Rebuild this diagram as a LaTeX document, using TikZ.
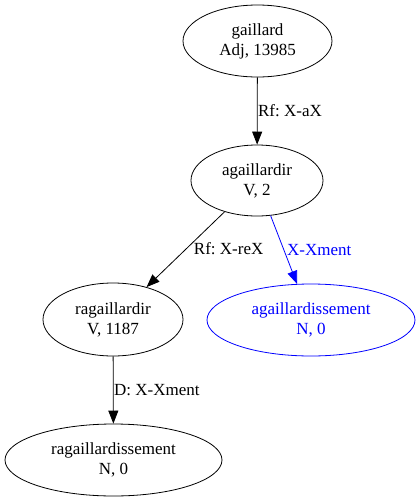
\documentclass[tikz,border=0pt]{standalone}
\usepackage{fontspec}
\setmainfont{Liberation Serif}
\usepackage{xcolor}
\usetikzlibrary{shapes.geometric,arrows.meta,positioning}
\frenchspacing

\begin{document}
\begin{tikzpicture}[x=1pt,y=-1pt,
	lex/.style={ellipse,draw,line width=0.8pt,inner sep=0pt,align=center,font=\fontsize{17}{20}\selectfont},
	rel/.style={-{Triangle[length=13pt,width=10pt]},line width=0.8pt},
	lbl/.style={font=\fontsize{17}{20}\selectfont,inner sep=0pt}]
	\useasboundingbox (0,0) rectangle (420,501);
	\node[lex,minimum width=149pt,minimum height=72pt] (gaillard) at (257.5,41) {gaillard\\Adj, 13985};
	\node[lex,minimum width=132pt,minimum height=71pt] (agaillardir) at (257,180.5) {agaillardir\\V, 2};
	\node[lex,minimum width=140pt,minimum height=73pt] (ragaillardir) at (113,319.5) {ragaillardir\\V, 1187};
	\node[lex,blue,minimum width=208pt,minimum height=72pt] (agaillardissement) at (311,320) {agaillardissement\\N, 0};
	\node[lex,minimum width=217pt,minimum height=72pt] (ragaillardissement) at (113.5,460) {ragaillardissement\\N, 0};
	\draw[rel] (gaillard) -- node[lbl,anchor=west,xshift=0.5pt] {Rf: X-aX} (agaillardir);
	\draw[rel] (agaillardir) -- node[lbl,anchor=west,xshift=8pt,yshift=1pt] {Rf: X-reX} (ragaillardir);
	\draw[rel,blue] (agaillardir) -- node[lbl,anchor=west,xshift=3pt] {X-Xment} (agaillardissement);
	\draw[rel] (ragaillardir) -- node[lbl,anchor=west,xshift=0.5pt] {D: X-Xment} (ragaillardissement);
\end{tikzpicture}
\end{document}
